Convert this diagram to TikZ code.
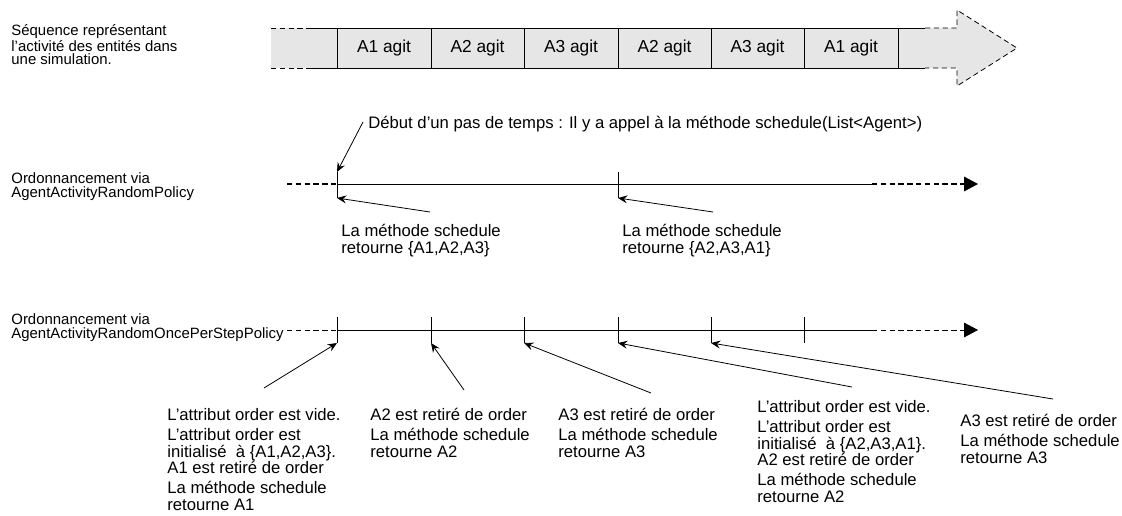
\documentclass[tikz,border=0pt]{standalone}
\usepackage{fontspec}
\setmainfont{Liberation Sans}
\usetikzlibrary{arrows.meta}
\definecolor{bandgray}{HTML}{E6E6E6}
\begin{document}
\begin{tikzpicture}[x=0.75pt,y=-0.75pt,line width=0.6pt,
  dsh/.style={dash pattern=on 4pt off 2.6pt},
  lbl/.style={anchor=north west,inner sep=0pt,align=left,font=\fontsize{12.5}{12.6}\selectfont},
  side/.style={anchor=north west,inner sep=0pt,align=left,font=\fontsize{11.2}{10.2}\selectfont},
  celltxt/.style={inner sep=0pt,font=\fontsize{13}{15}\selectfont},
  arr/.style={-{Stealth[length=7pt,width=6pt,inset=2.5pt]}},
  tip/.style={-{Triangle[length=10.5pt,width=11pt]}}]
\useasboundingbox (0,0) rectangle (1122,515);

% ---- band ----
\fill[bandgray] (271,28) -- (957,28) -- (957,10) -- (1017,48) -- (957,86) -- (957,68) -- (271,68) -- cycle;
\draw[dsh] (271,28) -- (310,28);
\draw[dsh] (271,68) -- (310,68);
\draw (310,28) -- (925,28);
\draw (310,68) -- (925,68);
\draw[dsh] (925,28) -- (957,28) -- (957,10) -- (1017,48) -- (957,86) -- (957,68) -- (925,68);
\foreach \x in {337,431,524,618,711,804,898} \draw (\x,28) -- (\x,68);
\node[celltxt] (c1) at (384,48) {A1 agit};
\node[celltxt] (c2) at (477.5,48) {A2 agit};
\node[celltxt] (c3) at (571,48) {A3 agit};
\node[celltxt] (c4) at (664.5,48) {A2 agit};
\node[celltxt] (c5) at (757.5,48) {A3 agit};
\node[celltxt] (c6) at (851,48) {A1 agit};

% ---- left captions ----
\node[side] (seq) at (11,24.5) {Séquence représentant\\l'activité des entités dans\\une simulation.};
\node[side,font=\fontsize{11.2}{10.5}\selectfont] (pol1) at (11,172) {Ordonnancement via\\AgentActivityRandomPolicy};
\node[side,font=\fontsize{11.2}{10.5}\selectfont] (pol2) at (11,313) {Ordonnancement via\\AgentActivityRandomOncePerStepPolicy};

% ---- timeline 1 ----
\coordinate (l1s) at (287,184);
\coordinate (l1a) at (337,184);
\coordinate (l1b) at (872,184);
\coordinate (l1e) at (978,184);
\draw[dsh,line width=0.9pt] (l1s) -- (l1a);
\draw (l1a) -- (l1b);
\draw[dsh,line width=0.9pt,tip] (l1b) -- (l1e);
\coordinate (a1t) at (337,172); \coordinate (a1b) at (337,198);
\coordinate (a2t) at (618,172); \coordinate (a2b) at (618,198);
\draw (a1t) -- (a1b);
\draw (a2t) -- (a2b);

\node[lbl] (debut) at (368,116) {Début d'un pas de temps : Il y a appel à la méthode schedule(List<Agent>)};
\coordinate (d0) at (363,122);
\draw[arr] (d0) -- (a1t);

\node[lbl] (r1) at (341,224) {La méthode schedule\\retourne \{A1,A2,A3\}};
\node[lbl] (r2) at (622,224) {La méthode schedule\\retourne \{A2,A3,A1\}};
\coordinate (s1) at (430,212);
\coordinate (s2) at (713,212);
\draw[arr] (s1) -- (a1b);
\draw[arr] (s2) -- (a2b);

% ---- timeline 2 ----
\coordinate (l2s) at (287,330);
\coordinate (l2a) at (337,330);
\coordinate (l2b) at (872,330);
\coordinate (l2e) at (978,330);
\draw[dsh] (l2s) -- (l2a);
\draw (l2a) -- (l2b);
\draw[dsh,tip] (l2b) -- (l2e);
\foreach \x/\n in {337/1,431/2,524/3,618/4,711/5,804/6} {
  \coordinate (b\n t) at (\x,317);
  \coordinate (b\n b) at (\x,343);
  \draw (b\n t) -- (b\n b);
}

\node[lbl] (k1) at (167,408) {L'attribut order est vide.\\[2.25pt]L'attribut order est\\initialisé \ à \{A1,A2,A3\}.\\A1 est retiré de order\\[2.25pt]La méthode schedule\\retourne A1};
\node[lbl] (k2) at (370,408) {A2 est retiré de order\\[2.25pt]La méthode schedule\\retourne A2};
\node[lbl] (k3) at (558,408) {A3 est retiré de order\\[2.25pt]La méthode schedule\\retourne A3};
\node[lbl] (k4) at (757,400) {L'attribut order est vide.\\[2.25pt]L'attribut order est\\initialisé \ à \{A2,A3,A1\}.\\A2 est retiré de order\\[2.25pt]La méthode schedule\\retourne A2};
\node[lbl] (k5) at (960,414) {A3 est retiré de order\\[2.25pt]La méthode schedule\\retourne A3};

\coordinate (u1) at (264,388);
\coordinate (u2) at (464,390);
\coordinate (u3) at (651,393);
\coordinate (u4) at (852,387);
\coordinate (u5) at (1053,399);
\draw[arr] (u1) -- (b1b);
\draw[arr] (u2) -- (b2b);
\draw[arr] (u3) -- (b3b);
\draw[arr] (u4) -- (b4b);
\draw[arr] (u5) -- (b5b);
\end{tikzpicture}
\end{document}
